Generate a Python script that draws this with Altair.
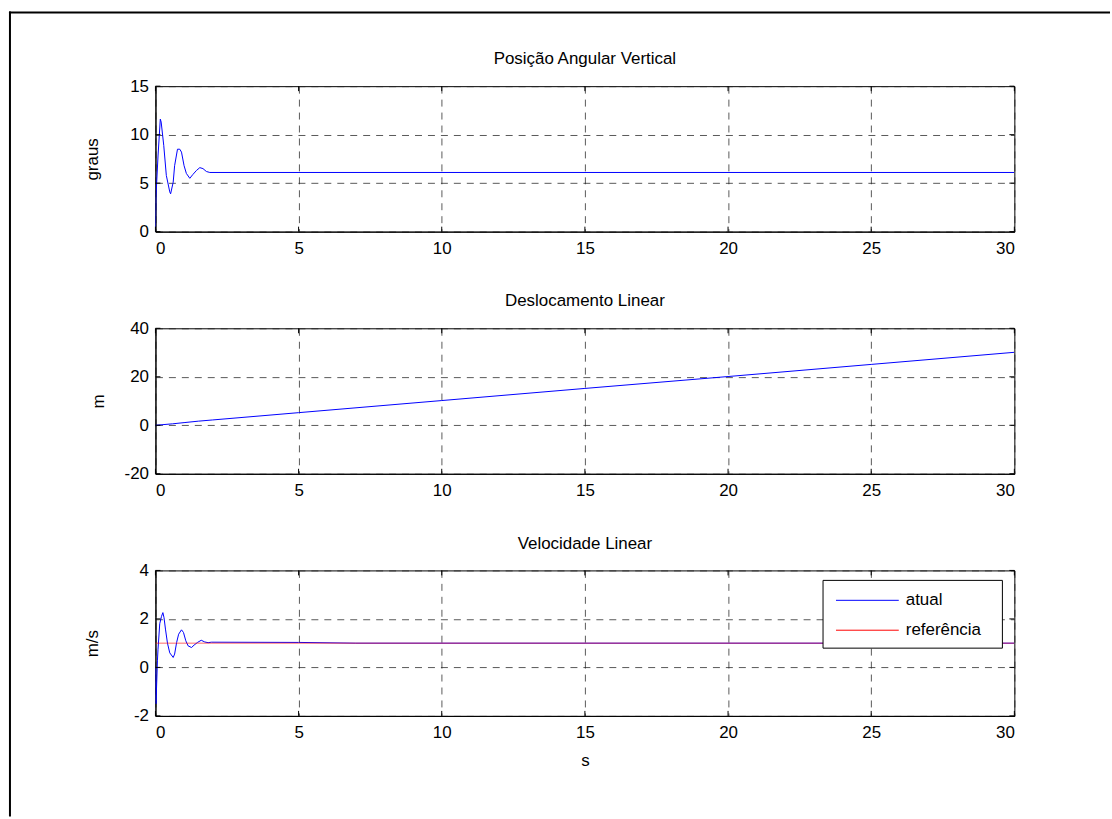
import altair as alt
import pandas as pd

FONT = "Liberation Sans"
FS = 17
W, H = 862, 146

# ---------------- data ----------------
x_ticks = [0, 5, 10, 15, 20, 25, 30]

# Panel 1: Posição Angular Vertical (graus)
t_ang = [0, 0.02, 0.09, 0.17, 0.20, 0.29, 0.38, 0.50, 0.53, 0.62, 0.67, 0.77,
         0.85, 0.91, 1.00, 1.08, 1.20, 1.31, 1.43, 1.55, 1.66, 1.78, 1.90, 30]
ang = [0, 3.7, 7.8, 11.6, 11.3, 8.9, 5.8, 4.1, 3.9, 5.1, 6.8, 8.5,
       8.5, 8.2, 6.8, 6.0, 5.5, 5.9, 6.3, 6.6, 6.5, 6.2, 6.1, 6.1]
ang_ticks = [0, 5, 10, 15]

# Panel 2: Deslocamento Linear (m)
t_pos = [0, 0.3, 0.6, 1.0, 1.5, 2.0, 5, 10, 15, 20, 25, 30]
pos = [0, 0.3, 0.6, 1.1, 1.7, 2.2, 5.2, 10.2, 15.2, 20.1, 25.1, 30.1]
pos_ticks = [-20, 0, 20, 40]

# Panel 3: Velocidade Linear (m/s)
t_vel = [0, 0.02, 0.07, 0.09, 0.15, 0.21, 0.26, 0.30, 0.35, 0.42, 0.50, 0.62,
         0.67, 0.74, 0.81, 0.91, 0.98, 1.06, 1.14, 1.26, 1.35, 1.47, 1.60, 1.72,
         1.84, 1.95, 5, 7, 30]
vel = [0, -1.5, 0.3, 0.75, 1.8, 2.1, 2.26, 2.05, 1.58, 1.0, 0.6, 0.41,
       0.55, 1.03, 1.37, 1.55, 1.44, 1.1, 0.89, 0.82, 0.92, 1.03, 1.12, 1.05,
       1.02, 1.04, 1.03, 1.0, 1.0]
t_ref = [0, 30]
vel_ref = [1.0, 1.0]
vel_ticks = [-2, 0, 2, 4]

titles = ["Posição Angular Vertical", "Deslocamento Linear", "Velocidade Linear"]
legend_labels = ["atual", "referência"]

# ---------------- helpers ----------------
one = pd.DataFrame({"a": [0]})
xt_df = pd.DataFrame({"t": x_ticks})
LABEL_EXPR = "datum.value < 0 ? '-' + abs(datum.value) : '' + datum.value"


def x_enc(show_title=False):
    return alt.X(
        "t:Q",
        scale=alt.Scale(domain=[0, 30], nice=False, zero=False),
        axis=alt.Axis(
            values=x_ticks,
            title="s" if show_title else "",
            titleY=45,
            titleBaseline="middle",
            titleFontWeight="normal",
        ),
    )


def y_enc(domain, ticks, title, title_x):
    return alt.Y(
        "y:Q",
        scale=alt.Scale(domain=domain, nice=False, zero=False),
        axis=alt.Axis(
            values=ticks,
            labelExpr=LABEL_EXPR,
            title=title,
            titleX=title_x,
            titleY=H / 2,
            titleAngle=-90,
            titleAlign="center",
            titleBaseline="middle",
            titleFontWeight="normal",
        ),
    )


def extras(ticks, title):
    """Inward tick marks on all four sides and the panel title."""
    yt_df = pd.DataFrame({"y": ticks})
    base_y = alt.Chart(yt_df).mark_rule(color="black", strokeWidth=1)
    base_x = alt.Chart(xt_df).mark_rule(color="black", strokeWidth=1)
    return [
        base_y.encode(y="y:Q", x=alt.value(0), x2=alt.value(5)),
        base_y.encode(y="y:Q", x=alt.value(W - 5), x2=alt.value(W)),
        base_x.encode(x="t:Q", y=alt.value(H - 5), y2=alt.value(H)),
        base_x.encode(x="t:Q", y=alt.value(0), y2=alt.value(5)),
        alt.Chart(one).mark_text(font=FONT, fontSize=FS, align="center",
                                 baseline="alphabetic", color="black",
                                 text=title).encode(x=alt.value(W / 2), y=alt.value(-22)),
    ]


def panel(layers, ydomain, yticks, ytitle, title_x, title, show_x_title=False):
    enc = dict(x=x_enc(show_x_title), y=y_enc(ydomain, yticks, ytitle, title_x))
    return alt.layer(*layers, *extras(yticks, title)).encode(**enc)


# ---------------- panel 1 ----------------
df1 = pd.DataFrame({"t": t_ang, "y": ang})
line1 = alt.Chart(df1).mark_line(color="#0000FF", strokeWidth=1, clip=True)
frame_h = alt.Chart(one).mark_rule(color="black", strokeWidth=2).encode(
    x=alt.value(-147), x2=alt.value(958), y=alt.value(-74)
)
frame_v = alt.Chart(one).mark_rule(color="black", strokeWidth=2).encode(
    x=alt.value(-146), y=alt.value(-75), y2=alt.value(733)
)
p1 = alt.layer(
    panel([line1], [0, 15], ang_ticks, "graus", -63, titles[0]),
    frame_h, frame_v,
).properties(width=W, height=H)

# ---------------- panel 2 ----------------
df2 = pd.DataFrame({"t": t_pos, "y": pos})
line2 = alt.Chart(df2).mark_line(color="#0000FF", strokeWidth=1, clip=True)
p2 = panel([line2], [-20, 40], pos_ticks, "m", -57, titles[1]).properties(width=W, height=H)

# ---------------- panel 3 ----------------
df3 = pd.DataFrame({"t": t_vel, "y": vel})
dfr = pd.DataFrame({"t": t_ref, "y": vel_ref})
line3 = alt.Chart(df3).mark_line(color="#0000FF", strokeWidth=1, clip=True)
line3r = alt.Chart(dfr).mark_line(color="#FF0000", strokeWidth=1, opacity=0.6, clip=True)
leg_box = alt.Chart(one).mark_rect(fill="white", stroke="black", strokeWidth=1).encode(
    x=alt.value(670), x2=alt.value(850), y=alt.value(10), y2=alt.value(78)
)
leg_l1 = alt.Chart(one).mark_rule(color="#0000FF", strokeWidth=1).encode(
    x=alt.value(683), x2=alt.value(746), y=alt.value(30)
)
leg_l2 = alt.Chart(one).mark_rule(color="#FF0000", strokeWidth=1).encode(
    x=alt.value(683), x2=alt.value(746), y=alt.value(60)
)
leg_t1 = alt.Chart(one).mark_text(font=FONT, fontSize=FS, align="left", baseline="middle",
                                  color="black", text=legend_labels[0]).encode(
    x=alt.value(753), y=alt.value(30)
)
leg_t2 = alt.Chart(one).mark_text(font=FONT, fontSize=FS, align="left", baseline="middle",
                                  color="black", text=legend_labels[1]).encode(
    x=alt.value(753), y=alt.value(60)
)
p3 = alt.layer(
    panel([line3, line3r], [-2, 4], vel_ticks, "m/s", -63, titles[2], show_x_title=True),
    leg_box, leg_l1, leg_l2, leg_t1, leg_t2,
).properties(width=W, height=H)

chart = (
    alt.vconcat(p1, p2, p3, spacing=97, bounds="flush")
    .properties(padding={"left": 7, "top": 8, "right": 0, "bottom": 0}, background="white")
    .configure_view(stroke="black", strokeWidth=1)
    .configure_axis(
        labelFont=FONT, labelFontSize=FS, labelColor="black",
        titleFont=FONT, titleFontSize=FS, titleColor="black",
        domain=True, domainColor="black", domainWidth=1,
        ticks=False, labelPadding=7,
        grid=True, gridColor="#222222", gridOpacity=0.75, gridDash=[7, 6], gridWidth=1,
    )
    .configure_axisX(labelPadding=9)
)

chart.save("out.html", embed_options={"renderer": "svg", "actions": False})
